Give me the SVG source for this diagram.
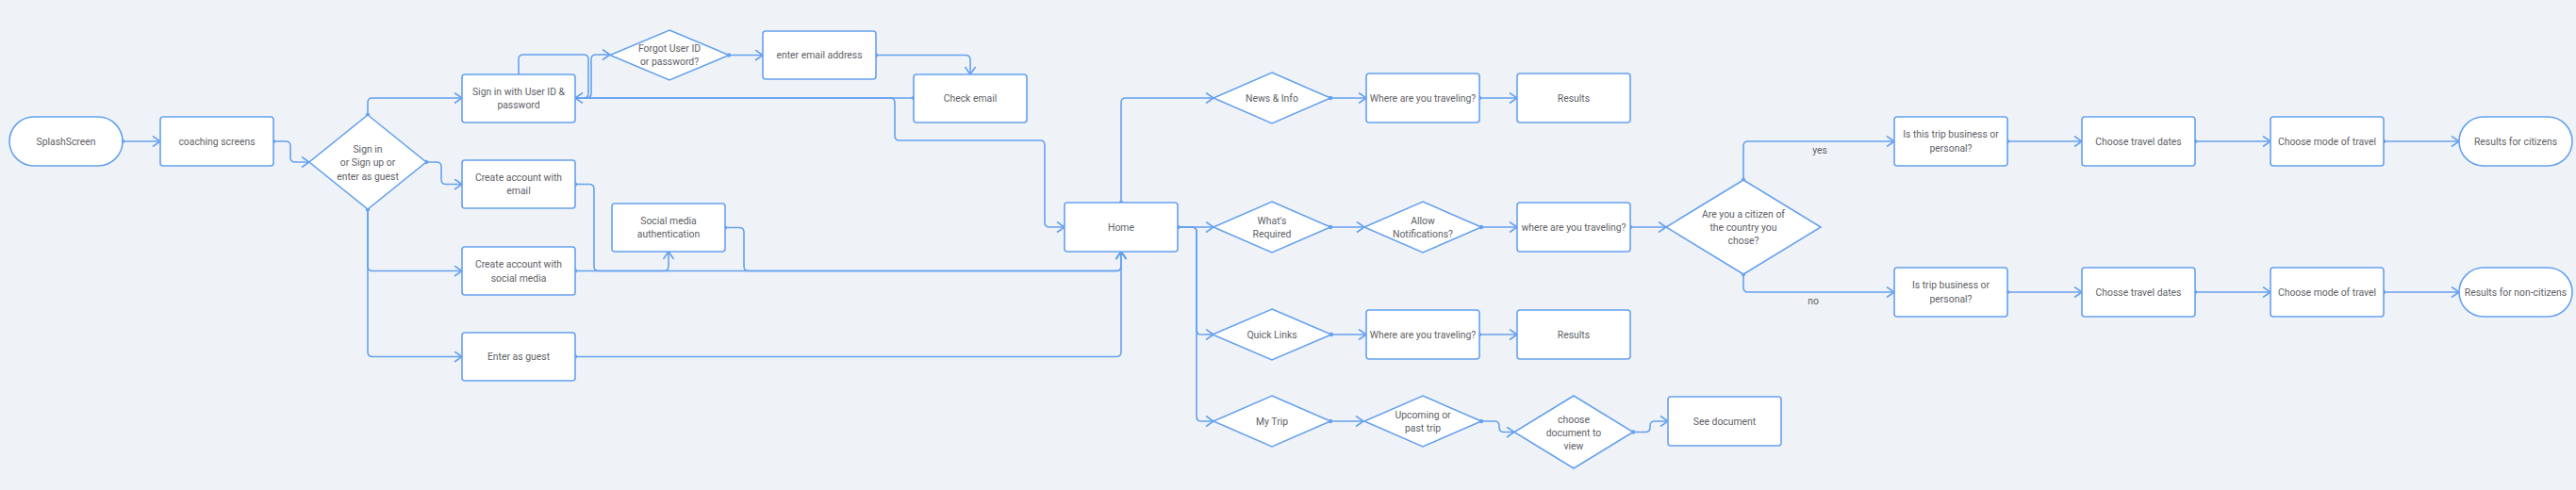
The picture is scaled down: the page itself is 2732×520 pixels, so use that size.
<svg xmlns="http://www.w3.org/2000/svg" width="2732" height="520" viewBox="0 0 2732 520">
<style>
.bg{fill:#eff3f7}
.n{fill:#ffffff;stroke:#66a1ef;stroke-width:1.6}
.t{font-family:Roboto,"Liberation Sans",sans-serif;font-size:10.4px;fill:#5e6166;text-anchor:middle;dominant-baseline:central}
.c{fill:none;stroke:#66a1ef;stroke-width:1.6;marker-end:url(#arr);marker-start:url(#dot)}
.c2{fill:none;stroke:#66a1ef;stroke-width:1.6}
.lbl{font-family:Roboto,"Liberation Sans",sans-serif;font-size:10.4px;fill:#5e6166;text-anchor:middle;dominant-baseline:central}
</style>
<defs>
<marker id="arr" markerUnits="userSpaceOnUse" markerWidth="12" markerHeight="14" refX="9" refY="6" orient="auto">
<path d="M1,0.5 L9,6 L1,11.5" fill="none" stroke="#66a1ef" stroke-width="1.6"/>
</marker>
<marker id="dot" markerUnits="userSpaceOnUse" markerWidth="6" markerHeight="6" refX="3" refY="3" orient="auto">
<circle cx="3" cy="3" r="2.2" fill="#66a1ef"/>
</marker>
</defs>
<rect class="bg" x="0" y="0" width="2732" height="520"/>

<g id="connectors">
<path class="c" d="M130,150 H170"/>
<path class="c" d="M290,150 H303 q5,0 5,5 V167 q0,5 5,5 H328"/>
<path class="c" d="M390,122 V109 q0,-5 5,-5 H490"/>
<path class="c" d="M452,172 H463 q5,0 5,5 V190.5 q0,5 5,5 H490"/>
<path class="c" d="M390,222 V282.5 q0,5 5,5 H490"/>
<path class="c" d="M390,222 V373.5 q0,5 5,5 H490"/>
<path class="c2" d="M550,79 V63 q0,-5 5,-5 H619 q5,0 5,5 V99 q0,5 -5,5"/>
<path class="c" d="M610,104 H622 q5,0 5,-5 V63 q0,-5 5,-5 H647"/>
<path class="c" d="M773,58.5 H809"/>
<path class="c" d="M929,58.5 H1024 q5,0 5,5 V79"/>
<path class="c" d="M969,104 H610"/>
<path class="c" d="M610,104 H944 q5,0 5,5 V144 q0,5 5,5 H1103 q5,0 5,5 V236 q0,5 5,5 H1129"/>
<path class="c" d="M610,195.5 H625 q5,0 5,5 V282.5 q0,5 5,5 H1184 q5,0 5,-5 V267"/>
<path class="c" d="M610,287.5 H704 q5,0 5,-5 V267"/>
<path class="c" d="M769,241.5 H784 q5,0 5,5 V282.5 q0,5 5,5 H1184 q5,0 5,-5 V267"/>
<path class="c" d="M610,378.5 H1184 q5,0 5,-5 V267"/>
<path class="c" d="M1189,215 V109 q0,-5 5,-5 H1287"/>
<path class="c" d="M1249,241 H1287"/>
<path class="c" d="M1249,241 H1264 q5,0 5,5 V350 q0,5 5,5 H1287"/>
<path class="c" d="M1249,241 H1264 q5,0 5,5 V442 q0,5 5,5 H1287"/>
<path class="c" d="M1411,104 H1449"/>
<path class="c" d="M1569,104 H1609"/>
<path class="c" d="M1411,241 H1447"/>
<path class="c" d="M1571,241 H1609"/>
<path class="c" d="M1729,241 H1767"/>
<path class="c" d="M1849,191 V155 q0,-5 5,-5 H2009"/>
<path class="c" d="M1849,291 V305 q0,5 5,5 H2009"/>
<path class="c" d="M2129,150 H2208"/>
<path class="c" d="M2328,150 H2408"/>
<path class="c" d="M2528,150 H2608"/>
<path class="c" d="M2129,310 H2208"/>
<path class="c" d="M2328,310 H2408"/>
<path class="c" d="M2528,310 H2608"/>
<path class="c" d="M1412,355 H1449"/>
<path class="c" d="M1569,355 H1609"/>
<path class="c" d="M1411,447 H1446"/>
<path class="c" d="M1571,447 H1585 q5,0 5,5 V453.5 q0,5 5,5 H1606"/>
<path class="c" d="M1732,458.5 H1745 q5,0 5,-5 V452 q0,-5 5,-5 H1769"/>
<text class="lbl" x="1930" y="159">yes</text>
<text class="lbl" x="1923" y="319">no</text>
</g>

<g id="splash"><rect class="n" x="10" y="124" width="120" height="52" rx="26"/><text class="t" x="70" y="150">SplashScreen</text></g>
<g id="coaching"><rect class="n" x="170" y="124" width="120" height="52" rx="3"/><text class="t" x="230" y="150">coaching screens</text></g>
<g id="signin-decision"><polygon class="n" points="390,122 452,172 390,222 328,172"/><text class="t" x="390" y="158">Sign in</text><text class="t" x="390" y="172">or Sign up or</text><text class="t" x="390" y="187">enter as guest</text></g>
<g id="signin"><rect class="n" x="490" y="79" width="120" height="51" rx="3"/><text class="t" x="550" y="97.5">Sign in with User ID &amp;</text><text class="t" x="550" y="111.5">password</text></g>
<g id="forgot"><polygon class="n" points="710,32 773,58.5 710,85 647,58.5"/><text class="t" x="710" y="51.5">Forgot User ID</text><text class="t" x="710" y="65.5">or password?</text></g>
<g id="enter-email"><rect class="n" x="809" y="33" width="120" height="51" rx="3"/><text class="t" x="869" y="58.5">enter email address</text></g>
<g id="check-email"><rect class="n" x="969" y="79" width="120" height="51" rx="3"/><text class="t" x="1029" y="104.5">Check email</text></g>
<g id="ca-email"><rect class="n" x="490" y="170" width="120" height="51" rx="3"/><text class="t" x="550" y="188.5">Create account with</text><text class="t" x="550" y="202.5">email</text></g>
<g id="social-auth"><rect class="n" x="649" y="216" width="120" height="51" rx="3"/><text class="t" x="709" y="234.5">Social media</text><text class="t" x="709" y="248.5">authentication</text></g>
<g id="ca-social"><rect class="n" x="490" y="262" width="120" height="51" rx="3"/><text class="t" x="550" y="280">Create account with</text><text class="t" x="550" y="295">social media</text></g>
<g id="guest"><rect class="n" x="490" y="353" width="120" height="51" rx="3"/><text class="t" x="550" y="378.5">Enter as guest</text></g>
<g id="home"><rect class="n" x="1129" y="215" width="120" height="52" rx="3"/><text class="t" x="1189" y="241">Home</text></g>
<g id="news"><polygon class="n" points="1349,77 1411,104 1349,131 1287,104"/><text class="t" x="1349" y="104">News &amp; Info</text></g>
<g id="news-where"><rect class="n" x="1449" y="78" width="120" height="52" rx="3"/><text class="t" x="1509" y="104">Where are you traveling?</text></g>
<g id="news-results"><rect class="n" x="1609" y="78" width="120" height="52" rx="3"/><text class="t" x="1669" y="104">Results</text></g>
<g id="required"><polygon class="n" points="1349,214 1411,241 1349,268 1287,241"/><text class="t" x="1349" y="234">What's</text><text class="t" x="1349" y="248">Required</text></g>
<g id="notifications"><polygon class="n" points="1509,214 1571,241 1509,268 1447,241"/><text class="t" x="1509" y="234">Allow</text><text class="t" x="1509" y="248">Notifications?</text></g>
<g id="req-where"><rect class="n" x="1609" y="215" width="120" height="52" rx="3"/><text class="t" x="1669" y="241">where are you traveling?</text></g>
<g id="citizen"><polygon class="n" points="1849,191 1931,241 1849,291 1767,241"/><text class="t" x="1849" y="227.5">Are you a citizen of</text><text class="t" x="1849" y="241.5">the country you</text><text class="t" x="1849" y="255.5">chose?</text></g>
<g id="biz-yes"><rect class="n" x="2009" y="124" width="120" height="52" rx="3"/><text class="t" x="2069" y="142.5">Is this trip business or</text><text class="t" x="2069" y="157.5">personal?</text></g>
<g id="dates-yes"><rect class="n" x="2208" y="124" width="120" height="52" rx="3"/><text class="t" x="2268" y="150">Choose travel dates</text></g>
<g id="mode-yes"><rect class="n" x="2408" y="124" width="120" height="52" rx="3"/><text class="t" x="2468" y="150">Choose mode of travel</text></g>
<g id="results-citizens"><rect class="n" x="2608" y="124" width="120" height="52" rx="26"/><text class="t" x="2668" y="150">Results for citizens</text></g>
<g id="biz-no"><rect class="n" x="2009" y="284" width="120" height="52" rx="3"/><text class="t" x="2069" y="302.5">Is trip business or</text><text class="t" x="2069" y="317.5">personal?</text></g>
<g id="dates-no"><rect class="n" x="2208" y="284" width="120" height="52" rx="3"/><text class="t" x="2268" y="310">Chosse travel dates</text></g>
<g id="mode-no"><rect class="n" x="2408" y="284" width="120" height="52" rx="3"/><text class="t" x="2468" y="310">Choose mode of travel</text></g>
<g id="results-noncitizens"><rect class="n" x="2608" y="284" width="120" height="52" rx="26"/><text class="t" x="2668" y="310">Results for non-citizens</text></g>
<g id="quicklinks"><polygon class="n" points="1349,328 1412,355 1349,382 1286,355"/><text class="t" x="1349" y="355">Quick Links</text></g>
<g id="ql-where"><rect class="n" x="1449" y="329" width="120" height="52" rx="3"/><text class="t" x="1509" y="355">Where are you traveling?</text></g>
<g id="ql-results"><rect class="n" x="1609" y="329" width="120" height="52" rx="3"/><text class="t" x="1669" y="355">Results</text></g>
<g id="mytrip"><polygon class="n" points="1349,420 1411,447 1349,474 1287,447"/><text class="t" x="1349" y="447">My Trip</text></g>
<g id="upcoming"><polygon class="n" points="1509,420 1571,447 1509,474 1447,447"/><text class="t" x="1509" y="440">Upcoming or</text><text class="t" x="1509" y="454">past trip</text></g>
<g id="choose-doc"><polygon class="n" points="1669,420 1732,458.5 1669,497 1606,458.5"/><text class="t" x="1669" y="445">choose</text><text class="t" x="1669" y="459">document to</text><text class="t" x="1669" y="473">view</text></g>
<g id="see-doc"><rect class="n" x="1769" y="421" width="120" height="52" rx="3"/><text class="t" x="1829" y="447">See document</text></g>
</svg>
